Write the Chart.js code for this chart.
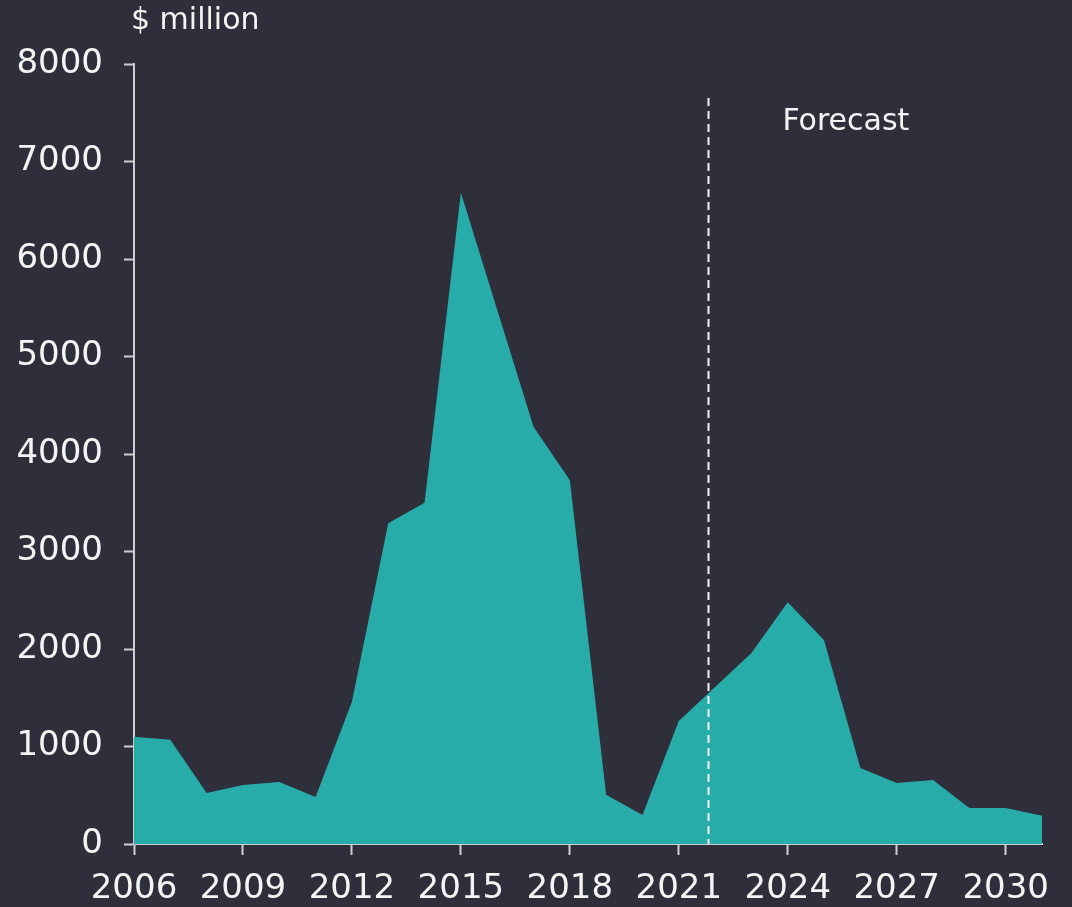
<!DOCTYPE html>
<html lang="en">
<head>
  <meta charset="UTF-8">
  <title>$ million – actual and forecast</title>
  <script src="https://cdn.jsdelivr.net/npm/chart.js"></script>
  <style>
    html, body {
      margin: 0;
      padding: 0;
      background: #2e2f3a;
    }
    .chart-box {
      width: 1072px;
      height: 907px;
    }
  </style>
</head>
<body>
  <div class="chart-box">
    <canvas id="mainChart"></canvas>
  </div>

  <script>
    // Data
    const years = [2006, 2007, 2008, 2009, 2010, 2011, 2012, 2013, 2014, 2015, 2016, 2017, 2018,
                   2019, 2020, 2021, 2022, 2023, 2024, 2025, 2026, 2027, 2028, 2029, 2030, 2031];
    const values = [1100, 1070, 523, 605, 636, 482, 1460, 3290, 3500, 6680, 5480, 4280, 3730,
                    505, 297, 1262, 1610, 1960, 2480, 2090, 780, 626, 656, 370, 370, 290];
    const xTicks = [2006, 2009, 2012, 2015, 2018, 2021, 2024, 2027, 2030];
    const yTicks = [0, 1000, 2000, 3000, 4000, 5000, 6000, 7000, 8000];
    const forecastStart = 2021.8;
    const unitLabel = '$ million';
    const forecastLabel = 'Forecast';

    const axisColor = '#cfcfd2';
    const textColor = '#f4f4f4';
    const fontFamily = '"DejaVu Sans", Verdana, sans-serif';

    // Draws the unit label, forecast divider and its caption
    const annotations = {
      id: 'annotations',
      afterDatasetsDraw(chart) {
        const c = chart.ctx;
        const x = chart.scales.x;
        const y = chart.scales.y;
        c.save();

        // dashed forecast line
        const fx = Math.round(x.getPixelForValue(forecastStart)) + 0.5;
        c.strokeStyle = '#f2f2f2';
        c.lineWidth = 2;
        c.setLineDash([8, 5]);
        c.beginPath();
        c.moveTo(fx, 98);
        c.lineTo(fx, y.getPixelForValue(0));
        c.stroke();
        c.setLineDash([]);

        c.fillStyle = textColor;
        c.font = '30px ' + fontFamily;
        c.textBaseline = 'middle';

        c.textAlign = 'center';
        c.fillText(forecastLabel, x.getPixelForValue(2025.6), 122);

        c.textAlign = 'left';
        c.fillText(unitLabel, chart.chartArea.left - 3, 21);
        c.restore();
      }
    };

    const ctx = document.getElementById('mainChart').getContext('2d');
    const mainChart = new Chart(ctx, {
      type: 'line',
      data: {
        datasets: [{
          data: years.map((yr, i) => ({ x: yr, y: values[i] })),
          backgroundColor: '#27aca9',
          borderWidth: 0,
          pointRadius: 0,
          fill: 'origin',
          tension: 0
        }]
      },
      options: {
        responsive: true,
        maintainAspectRatio: false,
        animation: false,
        layout: {
          padding: { top: 64, right: 30, left: 14, bottom: 0 }
        },
        plugins: {
          legend: { display: false },
          tooltip: { enabled: false }
        },
        scales: {
          x: {
            type: 'linear',
            min: 2006,
            max: 2031,
            afterBuildTicks(scale) {
              scale.ticks = xTicks.map(v => ({ value: v }));
            },
            afterFit(scale) {
              scale.height = 63;
            },
            grid: {
              display: true,
              drawOnChartArea: false,
              drawTicks: true,
              tickLength: 11,
              tickWidth: 2,
              tickColor: axisColor
            },
            border: { display: true, color: axisColor, width: 2 },
            ticks: {
              color: textColor,
              font: { family: fontFamily, size: 34 },
              padding: 14,
              maxRotation: 0,
              autoSkip: false,
              callback: v => String(v)
            }
          },
          y: {
            min: 0,
            max: 8000,
            afterBuildTicks(scale) {
              scale.ticks = yTicks.map(v => ({ value: v }));
            },
            afterFit(scale) {
              scale.width = 120;
            },
            grid: {
              display: true,
              drawOnChartArea: false,
              drawTicks: true,
              tickLength: 10,
              tickWidth: 2,
              tickColor: axisColor
            },
            border: { display: true, color: axisColor, width: 2 },
            ticks: {
              color: textColor,
              font: { family: fontFamily, size: 34 },
              padding: 21,
              callback: v => String(v)
            }
          }
        }
      },
      plugins: [annotations]
    });
  </script>
</body>
</html>
